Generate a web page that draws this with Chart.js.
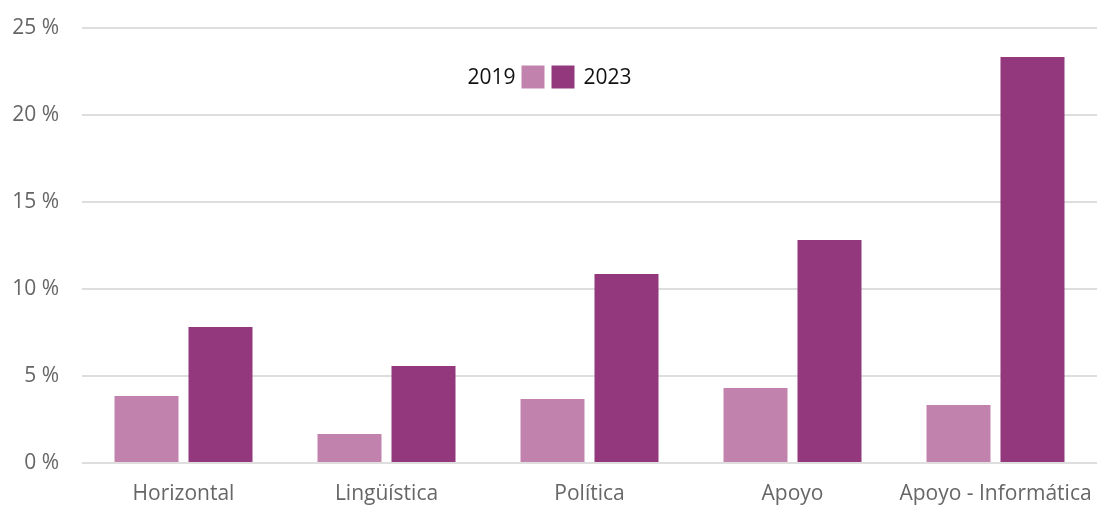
<!DOCTYPE html>
<html>
<head>
<meta charset="utf-8">
<script src="https://cdn.jsdelivr.net/npm/chart.js@4/dist/chart.umd.min.js"></script>
<style>
  html, body { margin: 0; padding: 0; background: #fff; }
  #wrap { width: 1097px; height: 505px; }
</style>
</head>
<body>
<div id="wrap"><canvas id="chart"></canvas></div>
<script>
'use strict';

var categories = ['Horizontal', 'Lingüística', 'Política', 'Apoyo', 'Apoyo - Informática'];
var values2019 = [3.85, 1.67, 3.68, 4.31, 3.33];
var values2023 = [7.82, 5.57, 10.86, 12.82, 23.33];
var yTicks = [0, 5, 10, 15, 20, 25];

var col2019 = '#C183AE';
var col2023 = '#93387D';
var fontFam = '"Open Sans", "Noto Sans", sans-serif';

// legend drawn by hand: "2019 [box] [box] 2023"
var midLegend = {
  id: 'midLegend',
  afterDraw: function (chart) {
    var ctx = chart.ctx;
    var ds = chart.data.datasets;
    var cx = 548, cy = 77, box = 23, gap = 7;
    ctx.save();
    ctx.font = '21px ' + fontFam;
    ctx.textBaseline = 'middle';
    ctx.fillStyle = ds[0].backgroundColor;
    ctx.fillRect(cx - gap / 2 - box, cy - box / 2, box, box);
    ctx.fillStyle = ds[1].backgroundColor;
    ctx.fillRect(cx + gap / 2, cy - box / 2, box, box);
    ctx.fillStyle = '#111';
    ctx.textAlign = 'right';
    ctx.fillText(ds[0].label, cx - gap / 2 - box - 6, cy + 1);
    ctx.textAlign = 'left';
    ctx.fillText(ds[1].label, cx + gap / 2 + box + 9, cy + 1);
    ctx.restore();
  }
};

new Chart(document.getElementById('chart'), {
  type: 'bar',
  data: {
    labels: categories,
    datasets: [
      { label: '2019', data: values2019, backgroundColor: col2019 },
      { label: '2023', data: values2023, backgroundColor: col2023 }
    ]
  },
  options: {
    responsive: true,
    maintainAspectRatio: false,
    animation: false,
    layout: { padding: { top: 28, right: 0, left: 0, bottom: 0 } },
    categoryPercentage: 0.729,
    barPercentage: 0.865,
    plugins: {
      legend: { display: false },
      tooltip: { enabled: false }
    },
    scales: {
      x: {
        grid: { display: false },
        border: { display: false },
        ticks: { color: '#666', font: { family: fontFam, size: 21 }, padding: 10, maxRotation: 0 },
        afterFit: function (s) {
          s.height = 42;
          s.paddingLeft = 0;
          s.paddingRight = 0;
        }
      },
      y: {
        min: 0,
        max: 25,
        afterBuildTicks: function (s) { s.ticks = yTicks.map(function (v) { return { value: v }; }); },
        grid: { color: '#dedede', lineWidth: 2, drawTicks: false },
        border: { display: false },
        ticks: {
          color: '#666',
          font: { family: fontFam, size: 21 },
          padding: 23,
          callback: function (v) { return v + ' %'; }
        },
        afterFit: function (s) {
          s.width = 82;
          s.paddingTop = 0;
          s.paddingBottom = 0;
        }
      }
    }
  },
  plugins: [midLegend]
});
</script>
</body>
</html>
